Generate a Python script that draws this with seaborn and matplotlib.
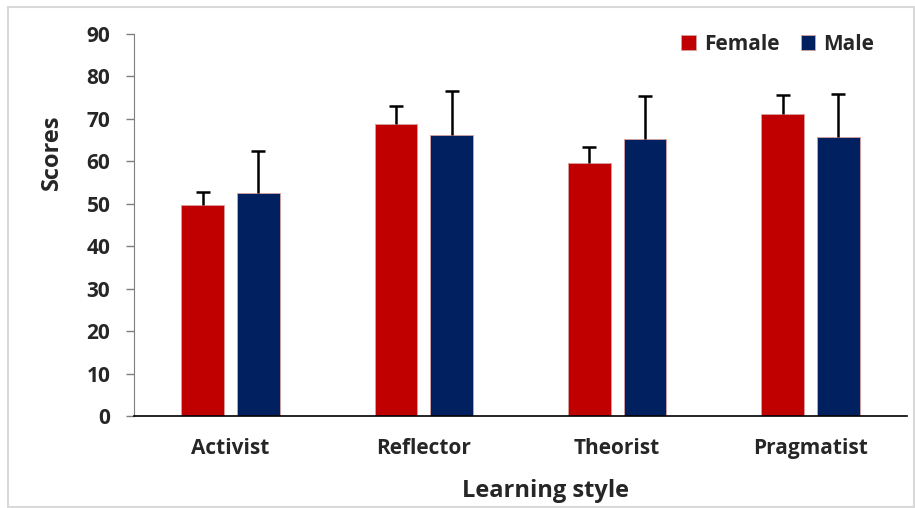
import pandas as pd
import seaborn as sns
import matplotlib.pyplot as plt
from matplotlib.patches import Rectangle

# data
styles = ["Activist", "Reflector", "Theorist", "Pragmatist"]
female_mean = [49.7, 68.9, 59.6, 71.2]
female_err = [3.0, 4.2, 3.7, 4.4]
male_mean = [52.6, 66.3, 65.3, 65.8]
male_err = [9.9, 10.2, 10.1, 10.1]

df = pd.DataFrame({
    "style": styles * 2,
    "sex": ["Female"] * 4 + ["Male"] * 4,
    "score": female_mean + male_mean,
    "err": female_err + male_err,
})

sns.set_style("white")
plt.rcParams["font.family"] = ["Open Sans", "DejaVu Sans"]
plt.rcParams["font.weight"] = "bold"

fig = plt.figure(figsize=(9.15, 5.08), dpi=100)
ax = fig.add_axes([0.1464, 0.1811, 0.8449, 0.752])

palette = {"Female": "#C00000", "Male": "#002060"}
sns.barplot(data=df, x="style", y="score", hue="sex", order=styles,
            hue_order=["Female", "Male"], palette=palette, width=0.576,
            gap=0.23, errorbar=None, saturation=1, ax=ax,
            edgecolor="#d9a0a0", linewidth=0.6)

# upper error bars, placed on the bars seaborn drew
for container, sex in zip(ax.containers, ["Female", "Male"]):
    sub = df[df.sex == sex].set_index("style").loc[styles]
    xs = [p.get_x() + p.get_width() / 2 for p in container.patches]
    _, caps, _ = ax.errorbar(xs, sub["score"], yerr=[[0] * 4, sub["err"]],
                             fmt="none", ecolor="black", elinewidth=1.8,
                             capsize=5, capthick=1.8)
    caps[0].set_visible(False)

ax.set_ylim(0, 90)
ax.set_yticks(range(0, 91, 10))
ax.set_xlim(-0.5, 3.5)
ax.tick_params(axis="y", direction="out", length=6, width=1, color="#7f7f7f",
               labelsize=15, pad=11, left=True)
ax.tick_params(axis="x", length=0, labelsize=15, pad=16)
for lab in ax.get_xticklabels() + ax.get_yticklabels():
    lab.set_fontweight("bold")

for s in ["top", "right"]:
    ax.spines[s].set_visible(False)
ax.spines["left"].set_color("#7f7f7f")
ax.spines["bottom"].set_color("black")
ax.spines["bottom"].set_linewidth(1.2)

ax.set_xlabel("Learning style", fontsize=17, fontweight="bold")
ax.xaxis.set_label_coords(0.532, -0.165)
ax.set_ylabel("Scores", fontsize=17, fontweight="bold")
ax.yaxis.set_label_coords(-0.090, 0.69)

ax.legend(loc="upper right", bbox_to_anchor=(0.982, 1.05), ncol=2, frameon=False,
          handlelength=0.7, handleheight=0.7, handletextpad=0.4,
          columnspacing=1.0, prop={"weight": "bold", "size": 15})

fig.add_artist(Rectangle((8 / 915, 0.002), 906 / 915, 500 / 508,
                         transform=fig.transFigure, fill=False,
                         edgecolor="#d9d9d9", linewidth=1.5))

fig.savefig("out.png", dpi=100)
